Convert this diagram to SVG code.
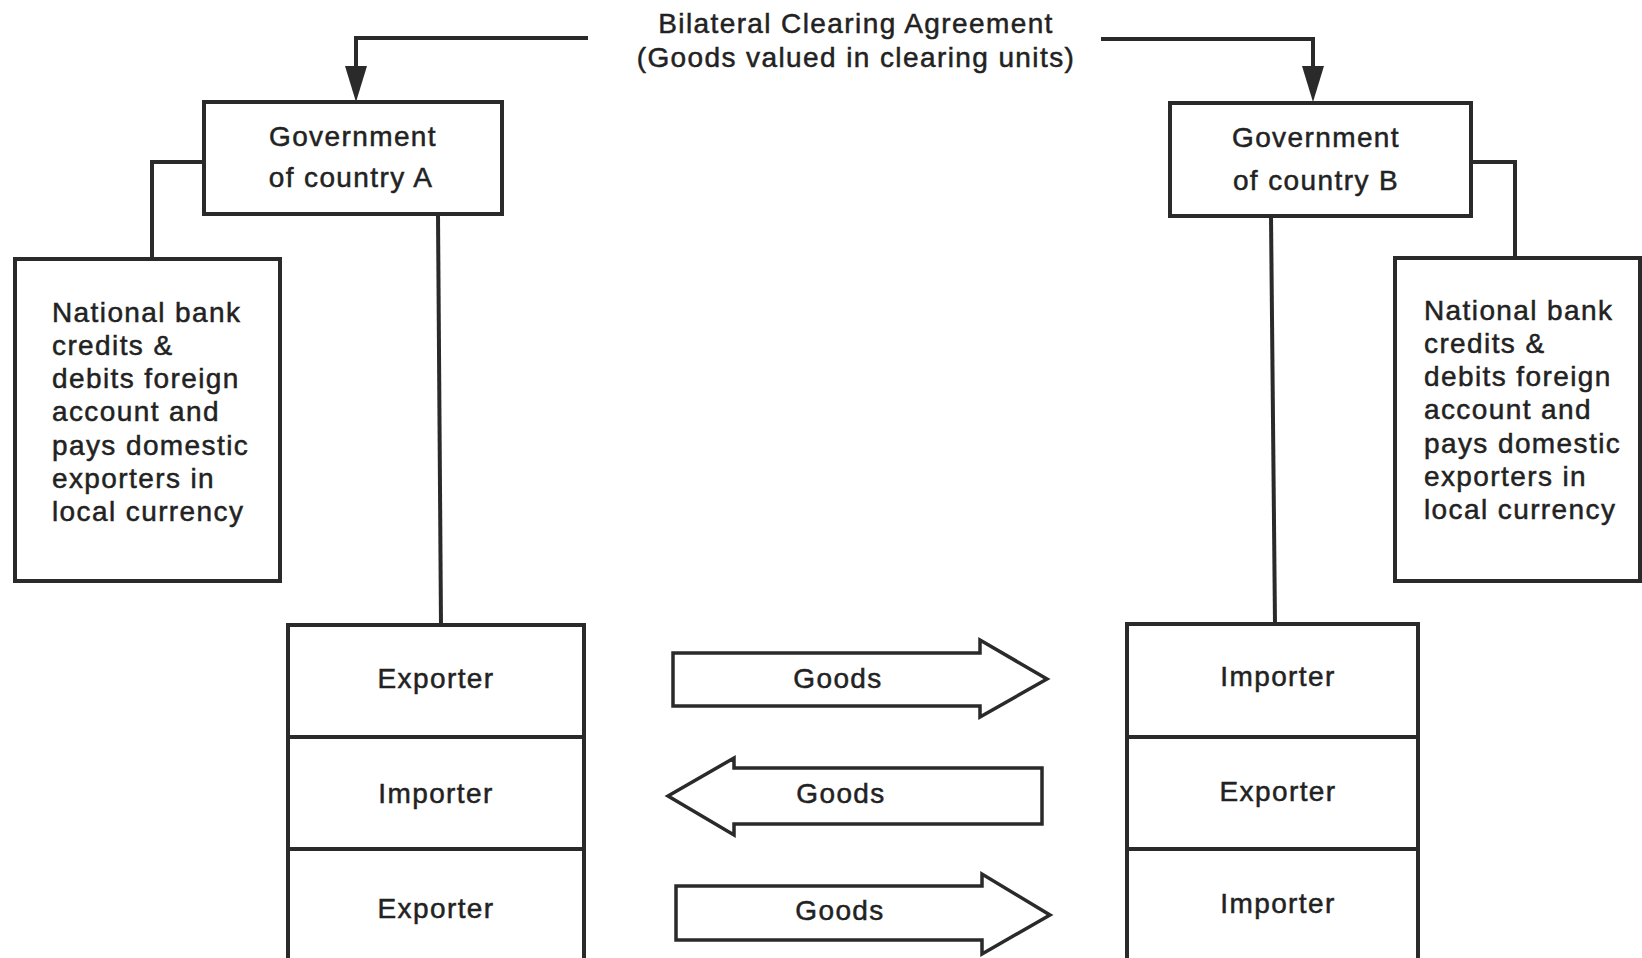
<svg xmlns="http://www.w3.org/2000/svg" width="1642" height="958" viewBox="0 0 1642 958">
<style>
  .bg{fill:#ffffff}
  .box{fill:#ffffff;stroke:#2a2a2a;stroke-width:4}
  .line{fill:none;stroke:#2a2a2a;stroke-width:4}
  .flow{fill:#ffffff;stroke:#2a2a2a;stroke-width:3.5;stroke-linejoin:miter}
  text{font-family:"Liberation Sans",Arial,sans-serif;font-size:28px;fill:#222222;stroke:#222222;stroke-width:0.5;letter-spacing:1.4px}
  .c{text-anchor:middle}
</style>
<defs>
  <marker id="ah" markerUnits="userSpaceOnUse" viewBox="0 0 36 22" markerWidth="36" markerHeight="22" refX="0" refY="11" orient="auto">
    <path d="M0,0 L36,11 L0,22 Z" fill="#2a2a2a"/>
  </marker>
</defs>
<rect class="bg" x="0" y="0" width="1642" height="958"/>

<g id="connectors">
  <path class="line" d="M588,38 H356 V66" marker-end="url(#ah)"/>
  <path class="line" d="M1101,39 H1313 V66" marker-end="url(#ah)"/>
  <path class="line" d="M204,162 H152 V259"/>
  <path class="line" d="M1471,162 H1515 V258"/>
  <path class="line" d="M438,214 L441,625"/>
  <path class="line" d="M1271,216 L1275,624"/>
</g>

<g id="title">
  <text class="c" x="856" y="33">Bilateral Clearing Agreement</text>
  <text class="c" x="856" y="67">(Goods valued in clearing units)</text>
</g>

<g id="govA">
  <rect class="box" x="204" y="102" width="298" height="112"/>
  <text class="c" x="353" y="146">Government</text>
  <text class="c" x="351" y="187">of country A</text>
</g>

<g id="govB">
  <rect class="box" x="1170" y="103" width="301" height="113"/>
  <text class="c" x="1316" y="147">Government</text>
  <text class="c" x="1316" y="190">of country B</text>
</g>

<g id="bankA">
  <rect class="box" x="15" y="259" width="265" height="322"/>
  <text x="52" y="322">National bank</text>
  <text x="52" y="355">credits &amp;</text>
  <text x="52" y="388">debits foreign</text>
  <text x="52" y="421">account and</text>
  <text x="52" y="455">pays domestic</text>
  <text x="52" y="488">exporters in</text>
  <text x="52" y="521">local currency</text>
</g>

<g id="bankB">
  <rect class="box" x="1395" y="258" width="245" height="323"/>
  <text x="1424" y="320">National bank</text>
  <text x="1424" y="353">credits &amp;</text>
  <text x="1424" y="386">debits foreign</text>
  <text x="1424" y="419">account and</text>
  <text x="1424" y="453">pays domestic</text>
  <text x="1424" y="486">exporters in</text>
  <text x="1424" y="519">local currency</text>
</g>

<g id="colA">
  <g id="colA-exporter1">
    <rect class="box" x="288" y="625" width="296" height="112"/>
    <text class="c" x="436" y="688">Exporter</text>
  </g>
  <g id="colA-importer">
    <rect class="box" x="288" y="737" width="296" height="112"/>
    <text class="c" x="436" y="803">Importer</text>
  </g>
  <g id="colA-exporter2">
    <rect class="box" x="288" y="849" width="296" height="120"/>
    <text class="c" x="436" y="918">Exporter</text>
  </g>
</g>

<g id="colB">
  <g id="colB-importer1">
    <rect class="box" x="1127" y="624" width="291" height="113"/>
    <text class="c" x="1278" y="686">Importer</text>
  </g>
  <g id="colB-exporter">
    <rect class="box" x="1127" y="737" width="291" height="112"/>
    <text class="c" x="1278" y="801">Exporter</text>
  </g>
  <g id="colB-importer2">
    <rect class="box" x="1127" y="849" width="291" height="120"/>
    <text class="c" x="1278" y="913">Importer</text>
  </g>
</g>

<g id="goods1">
  <path class="flow" d="M673,653 H980 V640 L1047,679 L980,717 V706 H673 Z"/>
  <text class="c" x="838" y="688">Goods</text>
</g>
<g id="goods2">
  <path class="flow" d="M1042,768 H734 V758 L668,796 L734,835 V824 H1042 Z"/>
  <text class="c" x="841" y="803">Goods</text>
</g>
<g id="goods3">
  <path class="flow" d="M676,886 H982 V874 L1050,915 L982,954 V940 H676 Z"/>
  <text class="c" x="840" y="920">Goods</text>
</g>
</svg>
